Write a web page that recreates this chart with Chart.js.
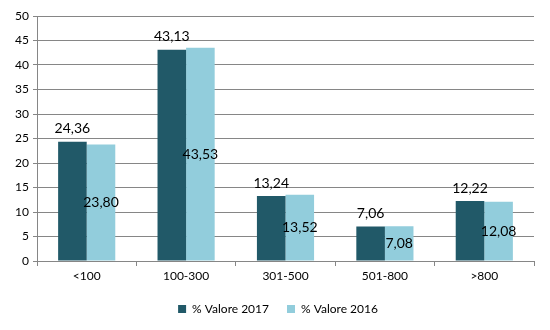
<!DOCTYPE html>
<html>
<head>
<meta charset="utf-8">
<script src="https://cdn.jsdelivr.net/npm/chart.js@4/dist/chart.umd.min.js"></script>
<style>
  html, body { margin: 0; padding: 0; background: #fff; }
  #wrap { width: 550px; height: 330px; }
</style>
</head>
<body>
<div id="wrap"><canvas id="c" width="550" height="330"></canvas></div>
<script>
const categories = ['<100', '100-300', '301-500', '501-800', '>800'];
const valori2017 = [24.36, 43.13, 13.24, 7.06, 12.22];
const valori2016 = [23.80, 43.53, 13.52, 7.08, 12.08];
const seriesNames = ['% Valore 2017', '% Valore 2016'];
const yTicks = [0, 5, 10, 15, 20, 25, 30, 35, 40, 45, 50];

const FONT = 'Lato, "Open Sans", sans-serif';
const fmt = v => v.toFixed(2).replace('.', ',');

// Value labels: 2017 above the bar, 2016 centred inside the bar
const valueLabels = {
  id: 'valueLabels',
  afterDatasetsDraw(chart) {
    const ctx = chart.ctx;
    ctx.save();
    ctx.font = '14px ' + FONT;
    ctx.fillStyle = '#000';
    ctx.textAlign = 'center';
    ctx.textBaseline = 'middle';
    chart.data.datasets.forEach((ds, di) => {
      chart.getDatasetMeta(di).data.forEach((bar, i) => {
        const v = ds.data[i];
        const y = di === 0 ? bar.y - 13 : (bar.y + bar.base) / 2;
        ctx.fillText(fmt(v), bar.x, y);
      });
    });
    ctx.restore();
  }
};

// Centre the legend under the whole canvas rather than the padded layout box
const legendShift = {
  id: 'legendShift',
  afterLayout(chart) {
    if (chart.legend) { chart.legend.left += 11; chart.legend.right += 11; }
  }
};

new Chart(document.getElementById('c'), {
  type: 'bar',
  data: {
    labels: categories,
    datasets: [
      { label: seriesNames[0], data: valori2017, backgroundColor: '#215968' },
      { label: seriesNames[1], data: valori2016, backgroundColor: '#92CDDC' }
    ]
  },
  options: {
    responsive: false,
    animation: false,
    layout: { padding: { top: 16, right: 16, bottom: 5, left: 0 } },
    datasets: { bar: { categoryPercentage: 0.575, barPercentage: 1.0 } },
    plugins: {
      legend: {
        position: 'bottom',
        labels: {
          boxWidth: 8, boxHeight: 8, padding: 18,
          color: '#000', font: { family: FONT, size: 12 }
        }
      },
      tooltip: { enabled: false }
    },
    scales: {
      x: {
        grid: { display: true, drawOnChartArea: false, offset: true, color: '#868686', tickLength: 5 },
        border: { color: '#868686' },
        ticks: { color: '#000', font: { family: FONT, size: 12 }, padding: 3, maxRotation: 0 },
        afterFit: s => { s.height = 24; }
      },
      y: {
        min: 0, max: 50,
        grid: { color: '#868686', tickLength: 4 },
        border: { color: '#868686' },
        afterBuildTicks: s => { s.ticks = yTicks.map(v => ({ value: v })); },
        ticks: { color: '#000', font: { family: FONT, size: 12 }, padding: 4 },
        afterFit: s => { s.width = 37; }
      }
    }
  },
  plugins: [valueLabels, legendShift]
});
</script>
</body>
</html>
